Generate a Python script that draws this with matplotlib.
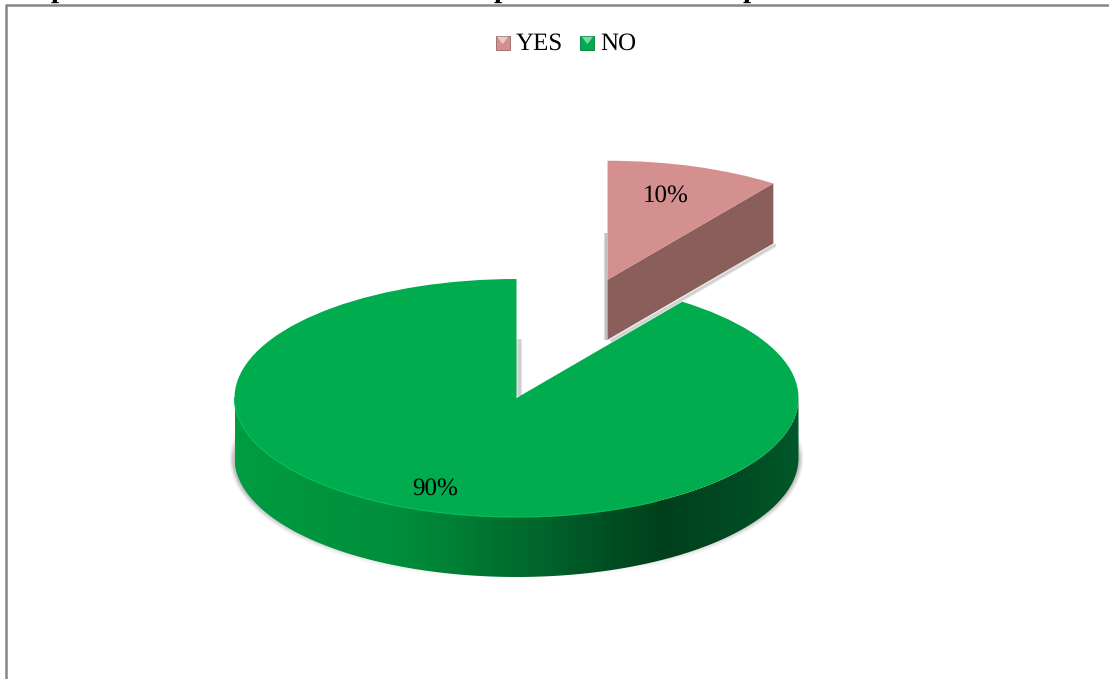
import numpy as np
import matplotlib
matplotlib.use("Agg")
import matplotlib.pyplot as plt
from matplotlib.collections import LineCollection
from matplotlib.colors import LinearSegmentedColormap
from matplotlib.legend_handler import HandlerBase
from matplotlib.patches import Patch, Polygon, Rectangle

# ── Data ───────
categories = ["YES", "NO"]
shares = [10, 90]

# ── Colors ──────
C_YES = "#D3908E"
C_YES_SIDE = "#8A5F5B"
C_NO = "#00AC4E"
C_EDGE = "#00BE57"
C_FRAME = "#868686"
RIM_STOPS = [(0.00, "#009C41"), (0.30, "#008D3A"), (0.48, "#00702F"),
             (0.66, "#004F24"), (0.76, "#00401C"), (0.92, "#004D24"), (1.00, "#00582A")]

plt.rcParams["font.family"] = ["Liberation Serif", "DejaVu Serif"]
plt.rcParams["text.hinting"] = "no_hinting"
plt.rcParams["text.hinting_factor"] = 1
FS = 18

W, H = 1109, 679
CX, CY = 516.5, 398      # pie centre in figure pixels
RX, RY = 282, 119        # pie radii in pixels
DEPTH = 60 / RY          # rim height in pie units
EXPLODE = 1.045

fig = plt.figure(figsize=(W / 100, H / 100), dpi=100, facecolor="white")
ax = fig.add_axes([0, 0, 1, 1])


def px(x, y):
    # figure pixels to pie units
    return (x - CX) / RX, (CY - y) / RY


# straight shadow strip, widest and faintest first
def shadow(xs, ys, widths=(3, 1.5), alpha=0.15, z=3):
    for lw in widths:
        ax.plot(xs, ys, color="#555555", lw=lw, alpha=alpha, zorder=z,
                solid_capstyle="butt")


# Top faces
wedges, _ = ax.pie(shares, explode=[EXPLODE, 0], startangle=90, counterclock=False,
                   colors=[C_YES, C_NO], radius=1, wedgeprops={"linewidth": 0, "zorder": 6})
ax.set_aspect("auto")
ax.set_frame_on(True)
ax.set_xticks([])
ax.set_yticks([])
for s in ax.spines.values():
    s.set_visible(False)

# Green rim with horizontal gradient
t = np.linspace(np.pi, 2 * np.pi, 300)
rim_x = np.cos(t)
rim_y = np.sin(t)
rim_pts = np.vstack([np.column_stack([rim_x, rim_y]),
                     np.column_stack([rim_x[::-1], rim_y[::-1] - DEPTH])])
rim_patch = Polygon(rim_pts, closed=True, facecolor="none", edgecolor="none")
ax.add_patch(rim_patch)
cmap = LinearSegmentedColormap.from_list("rim", RIM_STOPS)
img = ax.imshow(np.linspace(0, 1, 512).reshape(1, -1), cmap=cmap, aspect="auto",
                extent=[-1, 1, -1 - DEPTH, 0], zorder=4)
img.set_clip_path(rim_patch)
ax.set_xlim(px(0, 0)[0], px(W, 0)[0])
ax.set_ylim(px(0, H)[1], px(0, 0)[1])

# Soft shadow under the rim, strong at both ends and gone at the front
ts = np.linspace(np.pi - 0.28, 2 * np.pi + 0.28, 400)
sx = np.cos(ts) * 1.002
sy = np.sin(ts) - DEPTH
fade = np.abs(np.cos(ts)) ** 2.2
fade = fade * np.clip((np.pi / 2 + 0.28 - np.abs(ts - 1.5 * np.pi)) / 0.28, 0, 1)
segs = np.stack([np.column_stack([sx[:-1], sy[:-1]]), np.column_stack([sx[1:], sy[1:]])], axis=1)
for lw, a in [(6, 0.10), (4, 0.13), (2, 0.18)]:
    rgba = np.zeros((len(segs), 4))
    rgba[:, :3] = 0.33
    rgba[:, 3] = a * fade[:-1]
    ax.add_collection(LineCollection(segs, colors=rgba, linewidths=lw, zorder=2, capstyle="butt"))

# Light edge along the front of the top face
ax.plot(rim_x[:200], rim_y[:200], color=C_EDGE, lw=0.9, zorder=7)

# Side face of the pulled-out slice
angle = np.deg2rad(360 * shares[0] / 100)
mid = angle / 2
ox, oy = EXPLODE * np.sin(mid), EXPLODE * np.cos(mid)
ex, ey = ox + np.sin(angle), oy + np.cos(angle)
side = Polygon([(ox, oy), (ex, ey), (ex, ey - DEPTH), (ox, oy - DEPTH)], closed=True,
               facecolor=C_YES_SIDE, edgecolor="none", zorder=5)
ax.add_patch(side)

# Shadows beside the slice and in the notch
shadow([ox - 0.006, ox - 0.006], [oy - DEPTH, oy + 0.39], alpha=0.2)
shadow([ox + 0.01, ex + 0.008], [oy - DEPTH - 0.012, ey - DEPTH - 0.012])
shadow([0.008, 0.008], [0.02, 0.5], widths=(4, 2.5))

# Chart frame
fx, fy = px(5.5, 4.5)
ax.plot([fx, fx, px(W, 0)[0]], [px(0, H)[1], fy, fy], color=C_FRAME, lw=1.8, zorder=8)

# Percent labels
label_pos = [px(665.5, 195.5), px(435, 488.5)]
for (lx, ly), v in zip(label_pos, shares):
    ax.text(lx, ly, f"{v}%", ha="center", va="center", fontsize=FS, color="black", zorder=9)

# Tails of the heading line cut by the page edge above the frame
for hx in [59, 502, 751]:
    lx, ly = px(hx, -3)
    ax.text(lx, ly, "p", ha="center", va="baseline", fontsize=21, fontweight="bold",
            color="black", zorder=7, clip_on=False)


class BevelHandler(HandlerBase):
    # small square marker with a lit top and a dark bottom
    def create_artists(self, legend, orig, xd, yd, w, h, fontsize, trans):
        c = orig.get_facecolor()
        s = 10.2
        y0 = -yd - 0.8
        dark = tuple(0.7 * v for v in c[:3])
        light = tuple(0.5 + 0.5 * v for v in c[:3])
        body = Rectangle((0, y0), s, s, facecolor=c, edgecolor=dark, lw=0.6, transform=trans)
        tri = Polygon([(1, y0 + s - 0.8), (s - 1, y0 + s - 0.8), (s / 2, y0 + s * 0.4)], closed=True,
                      facecolor=light, edgecolor="none", transform=trans)
        return [body, tri]


handles = [Patch(facecolor=C_YES, label=categories[0]), Patch(facecolor=C_NO, label=categories[1])]
ax.legend(handles=handles, handler_map={Patch: BevelHandler()}, ncol=2, frameon=False,
          fontsize=FS, loc="center", bbox_to_anchor=(566 / W, 1 - 43.5 / H),
          handlelength=0.6, handleheight=0.6, handletextpad=0.2, columnspacing=0.7,
          borderpad=0, labelspacing=0)

fig.savefig("out.png", dpi=100, facecolor="white")
